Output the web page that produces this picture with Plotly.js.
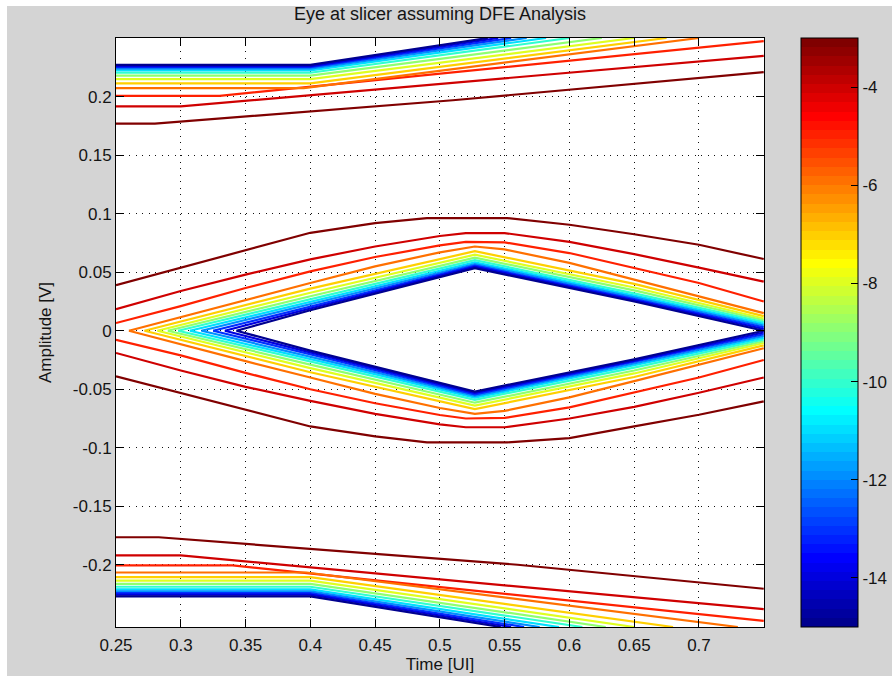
<!DOCTYPE html>
<html>
<head>
<meta charset="utf-8">
<script src="https://cdn.plot.ly/plotly-3.0.1.min.js"></script>
<style>
  html, body { margin:0; padding:0; background:#ffffff; width:892px; height:676px; overflow:hidden; }
  #chart { position:absolute; left:0; top:0; width:892px; height:676px; }
  .strip { position:absolute; background:#ffffff; }
</style>
</head>
<body>
<div id="chart"></div>
<div class="strip" style="left:0;top:0;width:892px;height:6px;"></div>
<div class="strip" style="left:0;top:0;width:7px;height:676px;"></div>
<script>
// ---------------- data ----------------
const titleText = 'Eye at slicer assuming DFE Analysis';
const xTitle = 'Time [UI]';
const yTitle = 'Amplitude [V]';

// contour levels, log10(BER)
const levels = [-3, -4, -5, -6, -7, -8, -9, -10, -11, -12, -13, -14, -15];
const colorMin = -15;
const colorMax = -3;

const xTickVals = [0.25, 0.3, 0.35, 0.4, 0.45, 0.5, 0.55, 0.6, 0.65, 0.7];
const xTickText = ['0.25', '0.3', '0.35', '0.4', '0.45', '0.5', '0.55', '0.6', '0.65', '0.7'];
const yTickVals = [-0.2, -0.15, -0.1, -0.05, 0, 0.05, 0.1, 0.15, 0.2];
const yTickText = ['-0.2', '-0.15', '-0.1', '-0.05', '0', '0.05', '0.1', '0.15', '0.2'];
const cbTickVals = [-14, -12, -10, -8, -6, -4];
const cbTickText = ['-14', '-12', '-10', '-8', '-6', '-4'];
const xRange = [0.25, 0.7502];
const yRange = [-0.2532, 0.2502];

// upper band (one line per level)
const topBandX = [
  [0.25, 0.28, 0.51, 0.75],
  [0.25, 0.30, 0.75],
  [0.25, 0.33, 0.75],
  [0.25, 0.395, 0.70],
  [0.25, 0.40, 0.675],
  [0.25, 0.40, 0.65],
  [0.25, 0.40, 0.625],
  [0.25, 0.40, 0.60],
  [0.25, 0.40, 0.582],
  [0.25, 0.40, 0.567],
  [0.25, 0.40, 0.555],
  [0.25, 0.40, 0.545],
  [0.25, 0.40, 0.537]
];
const topBandY = [
  [0.177, 0.177, 0.197, 0.221],
  [0.1917, 0.1917, 0.235],
  [0.2008, 0.2008, 0.2475],
  [0.2074, 0.2074, 0.2502],
  [0.2115, 0.2115, 0.2502],
  [0.2150, 0.2150, 0.2502],
  [0.2180, 0.2180, 0.2502],
  [0.2205, 0.2205, 0.2502],
  [0.2225, 0.2225, 0.2502],
  [0.2240, 0.2240, 0.2502],
  [0.2252, 0.2252, 0.2502],
  [0.2262, 0.2262, 0.2502],
  [0.2272, 0.2272, 0.2502]
];

// lower band
const botBandX = [
  [0.25, 0.283, 0.56, 0.75],
  [0.25, 0.30, 0.75],
  [0.25, 0.34, 0.75],
  [0.25, 0.397, 0.73],
  [0.25, 0.40, 0.68],
  [0.25, 0.40, 0.65],
  [0.25, 0.40, 0.628],
  [0.25, 0.40, 0.61],
  [0.25, 0.40, 0.592],
  [0.25, 0.40, 0.577],
  [0.25, 0.40, 0.565],
  [0.25, 0.40, 0.555],
  [0.25, 0.40, 0.547]
];
const botBandY = [
  [-0.1765, -0.1765, -0.200, -0.2205],
  [-0.192, -0.192, -0.238],
  [-0.2005, -0.2005, -0.248],
  [-0.2066, -0.2066, -0.2532],
  [-0.2105, -0.2105, -0.2532],
  [-0.2135, -0.2135, -0.2532],
  [-0.2163, -0.2163, -0.2532],
  [-0.2188, -0.2188, -0.2532],
  [-0.2210, -0.2210, -0.2532],
  [-0.2228, -0.2228, -0.2532],
  [-0.2242, -0.2242, -0.2532],
  [-0.2256, -0.2256, -0.2532],
  [-0.2270, -0.2270, -0.2532]
];

// eye, upper half
const eyeUpX = [
  [0.25, 0.30, 0.35, 0.40, 0.45, 0.49, 0.552, 0.60, 0.65, 0.70, 0.75],
  [0.25, 0.30, 0.35, 0.40, 0.45, 0.50, 0.52, 0.55, 0.60, 0.65, 0.70, 0.75],
  [0.25, 0.30, 0.35, 0.40, 0.45, 0.50, 0.52, 0.55, 0.60, 0.65, 0.70, 0.75],
  [0.26, 0.30, 0.35, 0.40, 0.45, 0.50, 0.527, 0.55, 0.60, 0.65, 0.70, 0.75],
  [0.272, 0.40, 0.527, 0.65, 0.75],
  [0.282, 0.40, 0.527, 0.65, 0.75],
  [0.290, 0.40, 0.527, 0.65, 0.75],
  [0.298, 0.40, 0.527, 0.65, 0.75],
  [0.307, 0.40, 0.527, 0.65, 0.75],
  [0.316, 0.40, 0.527, 0.65, 0.75],
  [0.325, 0.40, 0.527, 0.65, 0.75],
  [0.334, 0.40, 0.527, 0.65, 0.75],
  [0.343, 0.40, 0.527, 0.65, 0.75]
];
const eyeUpY = [
  [0.039, 0.054, 0.069, 0.0837, 0.092, 0.0963, 0.0963, 0.0906, 0.0825, 0.0735, 0.0613],
  [0.0185, 0.034, 0.048, 0.061, 0.072, 0.081, 0.0835, 0.0835, 0.076, 0.0655, 0.054, 0.042],
  [0.0066, 0.021, 0.0365, 0.0507, 0.063, 0.073, 0.076, 0.0755, 0.0664, 0.0536, 0.0408, 0.025],
  [0.0, 0.0118, 0.0265, 0.0408, 0.055, 0.067, 0.072, 0.0695, 0.058, 0.0436, 0.0293, 0.015],
  [0.0, 0.036, 0.068, 0.040, 0.0125],
  [0.0, 0.0325, 0.065, 0.037, 0.0105],
  [0.0, 0.0295, 0.0625, 0.0345, 0.009],
  [0.0, 0.027, 0.0603, 0.032, 0.0075],
  [0.0, 0.0245, 0.0585, 0.030, 0.006],
  [0.0, 0.0225, 0.057, 0.0285, 0.0045],
  [0.0, 0.0205, 0.0557, 0.027, 0.003],
  [0.0, 0.019, 0.0546, 0.026, 0.0015],
  [0.0, 0.0175, 0.0535, 0.025, 0.0]
];

// eye, lower half
const eyeLoX = [
  [0.25, 0.30, 0.35, 0.40, 0.45, 0.49, 0.552, 0.60, 0.65, 0.70, 0.75],
  [0.25, 0.30, 0.35, 0.40, 0.45, 0.50, 0.52, 0.55, 0.60, 0.65, 0.70, 0.75],
  [0.25, 0.30, 0.35, 0.40, 0.45, 0.50, 0.52, 0.55, 0.60, 0.65, 0.70, 0.75],
  [0.26, 0.30, 0.35, 0.40, 0.45, 0.50, 0.527, 0.55, 0.60, 0.65, 0.70, 0.75],
  [0.272, 0.40, 0.527, 0.65, 0.75],
  [0.282, 0.40, 0.527, 0.65, 0.75],
  [0.290, 0.40, 0.527, 0.65, 0.75],
  [0.298, 0.40, 0.527, 0.65, 0.75],
  [0.307, 0.40, 0.527, 0.65, 0.75],
  [0.316, 0.40, 0.527, 0.65, 0.75],
  [0.325, 0.40, 0.527, 0.65, 0.75],
  [0.334, 0.40, 0.527, 0.65, 0.75],
  [0.343, 0.40, 0.527, 0.65, 0.75]
];
const eyeLoY = [
  [-0.039, -0.0533, -0.0675, -0.0818, -0.0903, -0.0954, -0.0954, -0.0917, -0.0818, -0.0718, -0.0604],
  [-0.019, -0.034, -0.048, -0.060, -0.071, -0.080, -0.0825, -0.0825, -0.075, -0.065, -0.053, -0.040],
  [-0.0077, -0.021, -0.036, -0.050, -0.062, -0.072, -0.075, -0.0745, -0.0655, -0.053, -0.040, -0.025],
  [0.0, -0.0118, -0.026, -0.040, -0.054, -0.066, -0.071, -0.0685, -0.057, -0.043, -0.029, -0.015],
  [0.0, -0.0355, -0.067, -0.0395, -0.0125],
  [0.0, -0.032, -0.064, -0.0365, -0.0105],
  [0.0, -0.029, -0.0615, -0.034, -0.009],
  [0.0, -0.0265, -0.059, -0.0315, -0.0075],
  [0.0, -0.024, -0.0572, -0.0295, -0.006],
  [0.0, -0.022, -0.0557, -0.028, -0.0045],
  [0.0, -0.020, -0.0543, -0.0265, -0.003],
  [0.0, -0.0185, -0.0531, -0.0255, -0.0015],
  [0.0, -0.017, -0.052, -0.0245, 0.0]
];

// ---------------- styling helpers ----------------
function jetMap(m) {
  const n = Math.ceil(m / 4);
  const u = [];
  for (let i = 1; i <= n; i++) u.push(i / n);
  for (let i = 0; i < n - 1; i++) u.push(1);
  for (let i = n; i >= 1; i--) u.push(i / n);
  const g0 = Math.ceil(n / 2) - (m % 4 === 1 ? 1 : 0);
  const J = Array.from({length: m}, () => [0, 0, 0]);
  for (let k = 0; k < u.length; k++) {
    const g = g0 + k + 1, r = g + n, b = g - n;
    if (r >= 1 && r <= m) J[r - 1][0] = u[k];
    if (g >= 1 && g <= m) J[g - 1][1] = u[k];
    if (b >= 1 && b <= m) J[b - 1][2] = u[k];
  }
  return J;
}
const JET = jetMap(64);
function rgb(c) { return 'rgb(' + c.map(v => Math.round(v * 255)).join(',') + ')'; }
function levelColor(L) {
  let idx = Math.floor((L - colorMin) / (colorMax - colorMin) * 64) + 1;
  idx = Math.max(1, Math.min(64, idx));
  return rgb(JET[idx - 1]);
}
const colorscale = [];
for (let i = 0; i < 64; i++) {
  colorscale.push([i / 64, rgb(JET[i])]);
  colorscale.push([(i + 1) / 64, rgb(JET[i])]);
}

const FONT = '"Liberation Sans", Arial, Helvetica, sans-serif';
const TXT = '#141414';

const traces = [];
levels.forEach((L, i) => {
  const col = levelColor(L);
  const line = {color: col, width: 2.2};
  [[topBandX, topBandY], [botBandX, botBandY], [eyeUpX, eyeUpY], [eyeLoX, eyeLoY]].forEach(([X, Y]) => {
    traces.push({type: 'scatter', mode: 'lines', x: X[i], y: Y[i], line: line,
      hoverinfo: 'skip', showlegend: false, cliponaxis: true});
  });
});

// colour bar
const cbX = 1.0571;
traces.push({
  type: 'scatter', mode: 'markers', x: [null, null], y: [null, null],
  hoverinfo: 'skip', showlegend: false,
  marker: {
    color: [colorMin, colorMax], cmin: colorMin, cmax: colorMax, colorscale: colorscale,
    showscale: true,
    colorbar: {
      x: cbX, xanchor: 'left', y: 0.5, yanchor: 'middle', len: 1, lenmode: 'fraction',
      thickness: 57, thicknessmode: 'pixels', xpad: 0, ypad: 0,
      outlinecolor: '#000', outlinewidth: 1,
      tickmode: 'array', tickvals: cbTickVals, ticktext: cbTickText,
      ticks: 'inside', ticklen: 7, tickwidth: 1, tickcolor: '#000',
      tickfont: {family: FONT, size: 17, color: TXT}
    }
  }
});

// left-side colour-bar ticks (MATLAB draws both sides)
const shapes = cbTickVals.map(v => {
  const yy = (v - colorMin) / (colorMax - colorMin);
  return {type: 'line', xref: 'paper', yref: 'paper', x0: cbX, x1: cbX + 7 / 648, y0: yy, y1: yy,
          line: {color: '#000', width: 1}};
});

const axisCommon = {
  showline: true, linecolor: '#000', linewidth: 1, mirror: 'ticks',
  ticks: 'inside', ticklen: 8, tickwidth: 1, tickcolor: '#000',
  showgrid: true, gridcolor: '#111', gridwidth: 1, griddash: '1px,5.5px',
  zeroline: false, tickfont: {family: FONT, size: 17, color: TXT},
  tickmode: 'array', fixedrange: true, automargin: false
};

const layout = {
  width: 892, height: 676,
  margin: {l: 116, r: 128, t: 38, b: 49, pad: 0, autoexpand: false},
  paper_bgcolor: '#d4d4d4', plot_bgcolor: '#ffffff',
  font: {family: FONT, size: 17, color: TXT},
  title: {text: titleText, font: {family: FONT, size: 18, color: TXT},
          x: 0.5, xref: 'paper', xanchor: 'center', y: 1 - 14 / 676, yref: 'container', yanchor: 'middle'},
  xaxis: Object.assign({}, axisCommon, {
    range: xRange, tickvals: xTickVals, ticktext: xTickText, ticklabelstandoff: 3,
    title: {text: xTitle, font: {family: FONT, size: 17, color: TXT}, standoff: 2}
  }),
  yaxis: Object.assign({}, axisCommon, {
    range: yRange, tickvals: yTickVals, ticktext: yTickText,
    title: {text: yTitle, font: {family: FONT, size: 17, color: TXT}, standoff: 16}
  }),
  shapes: shapes,
  showlegend: false
};

Plotly.newPlot('chart', traces, layout, {displayModeBar: false, staticPlot: true});
</script>
</body>
</html>
